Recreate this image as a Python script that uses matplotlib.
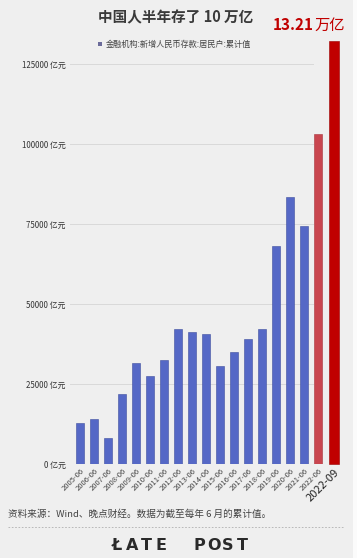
import matplotlib
matplotlib.use("Agg")
import matplotlib.pyplot as plt
import numpy as np
from matplotlib.patches import Rectangle
from matplotlib.lines import Line2D

plt.rcParams['font.family'] = ['Noto Sans CJK SC', 'DejaVu Sans']

categories = ["2005-06", "2006-06", "2007-06", "2008-06", "2009-06", "2010-06",
              "2011-06", "2012-06", "2013-06", "2014-06", "2015-06", "2016-06",
              "2017-06", "2018-06", "2019-06", "2020-06", "2021-06", "2022-06"]
values = [12900, 14200, 8000, 21900, 31600, 27400, 32500, 42300, 41300, 40500,
          30700, 35100, 39100, 42300, 68200, 83300, 74500, 103200]
extra_label = "2022-09"
extra_value = 132100
yticks = [0, 25000, 50000, 75000, 100000, 125000]
ytick_labels = [f"{v} 亿元" for v in yticks]

W, H = 357, 558
fig = plt.figure(figsize=(W / 100, H / 100), dpi=100)
fig.patch.set_facecolor('#efefef')
fig.patches.append(Rectangle((353 / W, 0), 4 / W, 1, transform=fig.transFigure,
                             facecolor='#fbfbfb', edgecolor='none', zorder=0))

# axes: left 70px, right 340px, zero at y=464, top at y=32 (135000)
ax = fig.add_axes([70 / W, (H - 464) / H, 270 / W, 432 / H])
ax.set_facecolor('none')
ax.set_ylim(0, 135000)
ax.set_xlim(-0.714, 18.57)

x = np.arange(len(categories))
colors = ['#5568c6'] * (len(categories) - 1) + ['#c9464f']
ax.bar(x, values, width=0.62, color=colors, edgecolor='#3f4f9e', linewidth=0.4, zorder=3)
ax.patches[-1].set_edgecolor('#a8343c')
x_extra = x[-1] + 1.15
ax.bar([x_extra], [extra_value], width=0.72, color='#c00000', edgecolor='#9a0000',
       linewidth=0.4, zorder=3, clip_on=False)

# gridlines
for v in yticks[1:]:
    ax.plot([-0.714, x[-1] - 0.33], [v, v], color='#d9d9d9', lw=0.7, zorder=1)
ax.plot([-0.714, x[-1] + 0.33], [0, 0], color='#c8c8c8', lw=0.7, zorder=1)

ax.set_yticks(yticks)
ax.set_yticklabels(ytick_labels, fontsize=5.7, color='#333333')
ax.tick_params(axis='y', length=0, pad=3)
ax.set_xticks(list(x) + [x_extra])
ax.set_xticklabels(categories + [extra_label], rotation=45, ha='right',
                   rotation_mode='anchor', fontsize=5.5, color='#444444')
ax.tick_params(axis='x', length=0, pad=2)
lab = ax.get_xticklabels()[-1]
lab.set_fontsize(8)
lab.set_color('#222222')
for s in ax.spines.values():
    s.set_visible(False)

# title and legend
fig.text(176 / W, 1 - 17 / H, "中国人半年存了 10 万亿", ha='center', va='center',
         fontsize=10.5, fontweight='bold', color='#3a3a3a')
t1 = fig.text(273 / W, 1 - 25 / H, "13.21", ha='left', va='center',
              fontsize=11, fontweight='bold', color='#c00000')
fig.canvas.draw()
bb = t1.get_window_extent()
fig.text(bb.x1 / W, 1 - 25 / H, "万亿", ha='left', va='center',
         fontsize=11, fontweight='medium', color='#c00000')
fig.patches.append(Rectangle((98 / W, 1 - 46 / H), 4 / W, 4 / H, transform=fig.transFigure,
                             facecolor='#6b6b9a', edgecolor='none'))
fig.text(106 / W, 1 - 44 / H, "金融机构:新增人民币存款:居民户:累计值", ha='left', va='center',
         fontsize=5.9, color='#444444')

# footer
fig.text(8 / W, 1 - 514 / H, "资料来源：Wind、晚点财经。数据为截至每年 6 月的累计值。",
         ha='left', va='center', fontsize=6.9, color='#444444')
fig.lines.append(Line2D([8 / W, 343 / W], [1 - 527 / H, 1 - 527 / H], transform=fig.transFigure,
                        color='#b0b0b0', lw=0.6, ls=(0, (2, 2))))
logo_letters = ["Ł", "A", "T", "E", "P", "O", "S", "T"]
logo_x = [117, 132, 146.5, 161, 199, 213.5, 228, 242]
for ch, lx in zip(logo_letters, logo_x):
    fig.text(lx / W, 1 - 545 / H, ch, ha='center', va='center',
             fontsize=11.5, fontweight='bold', color='#2a2a2a', family=['DejaVu Sans'])

fig.savefig('out.png', dpi=100, facecolor=fig.get_facecolor())
